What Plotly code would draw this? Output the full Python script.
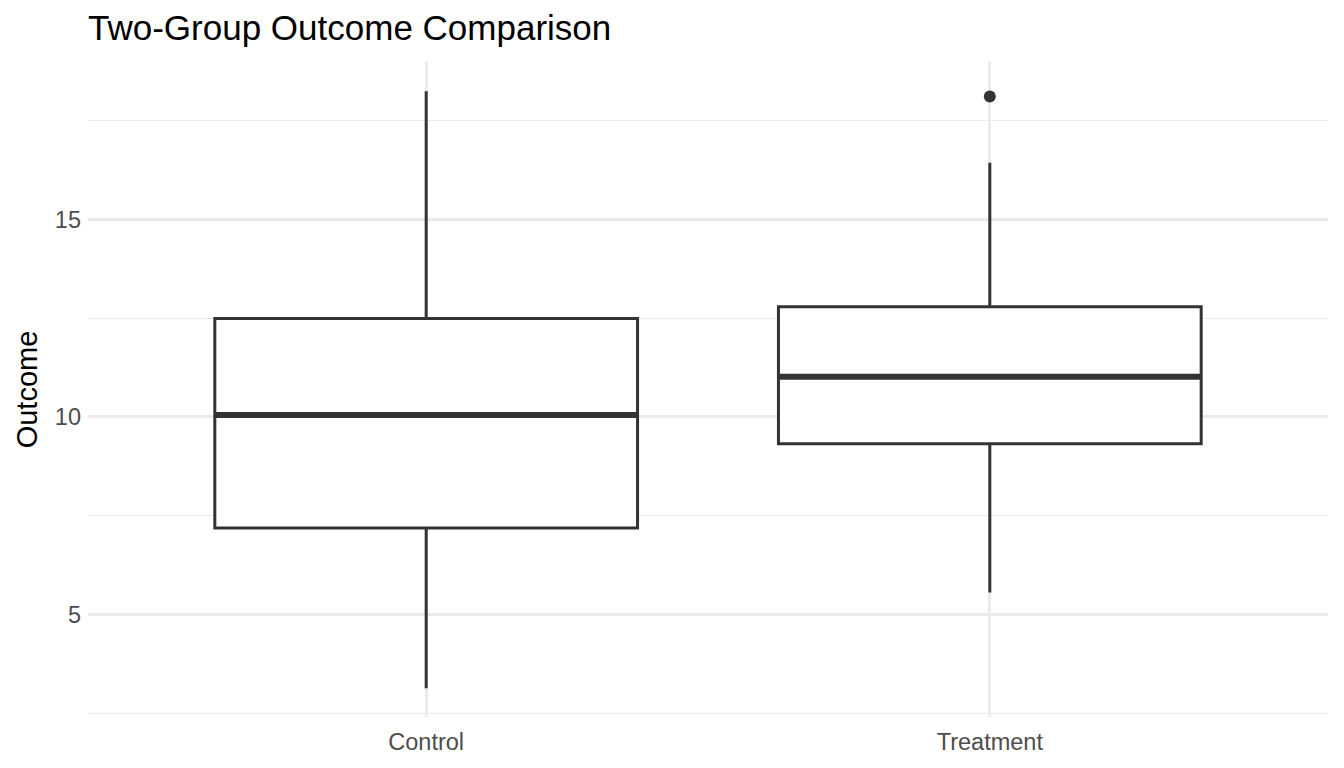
import plotly.graph_objects as go

groups = ["Control", "Treatment"]
lower_whisker = [3.14, 5.56]
q1 = [7.19, 9.32]
median = [10.05, 11.02]
q3 = [12.49, 12.79]
upper_whisker = [18.24, 16.43]
outlier_group = [1]
outlier_value = [18.11]

LINE = "#333333"
GRID = "#ebebeb"
FONT = "Liberation Sans, Arial, sans-serif"
BOX_W = 0.75

# page body has an 8px margin; compensate so the picture lines up
W, H = 1336, 760

fig = go.Figure()
for i, g in enumerate(groups):
    fig.add_trace(go.Box(
        x=[i], q1=[q1[i]], median=[median[i]], q3=[q3[i]],
        lowerfence=[lower_whisker[i]], upperfence=[upper_whisker[i]],
        width=BOX_W, whiskerwidth=0, fillcolor="white",
        line=dict(color=LINE, width=3), boxpoints=False,
        showlegend=False, hoverinfo="skip", name=g,
    ))
    fig.add_trace(go.Scatter(
        x=[i - BOX_W / 2, i + BOX_W / 2], y=[median[i], median[i]],
        mode="lines", line=dict(color=LINE, width=6),
        showlegend=False, hoverinfo="skip",
    ))

fig.add_trace(go.Scatter(
    x=outlier_group, y=outlier_value, mode="markers",
    marker=dict(color=LINE, size=12), showlegend=False, hoverinfo="skip",
))

fig.update_layout(
    width=W, height=H,
    paper_bgcolor="white", plot_bgcolor="white",
    margin=dict(l=80, r=16, t=54, b=51, autoexpand=False),
    font=dict(family=FONT),
    title=dict(text="Two-Group Outcome Comparison", x=80 / W, xanchor="left",
               xref="container", y=1 - 20 / H, yanchor="middle", yref="container",
               font=dict(size=35, color="black", family=FONT)),
    xaxis=dict(range=[-0.6, 1.6], tickvals=[0, 1], ticktext=groups,
               showgrid=True, gridcolor=GRID, gridwidth=2.5, zeroline=False,
               showline=False, ticks="", ticklabelstandoff=8, automargin=False,
               tickfont=dict(size=23.5, color="#4d4d4d")),
    yaxis=dict(range=[2.41, 18.98], tickvals=[5, 10, 15],
               showgrid=True, gridcolor=GRID, gridwidth=2.5, zeroline=False,
               showline=False, ticks="", ticklabelstandoff=6, automargin=False,
               tickfont=dict(size=23.5, color="#4d4d4d"),
               minor=dict(tickvals=[2.5, 7.5, 12.5, 17.5], showgrid=True,
                          gridcolor=GRID, gridwidth=1.3),
               title=dict(text="Outcome", font=dict(size=29, color="black"),
                          standoff=8)),
)

fig.write_html("out.html")
